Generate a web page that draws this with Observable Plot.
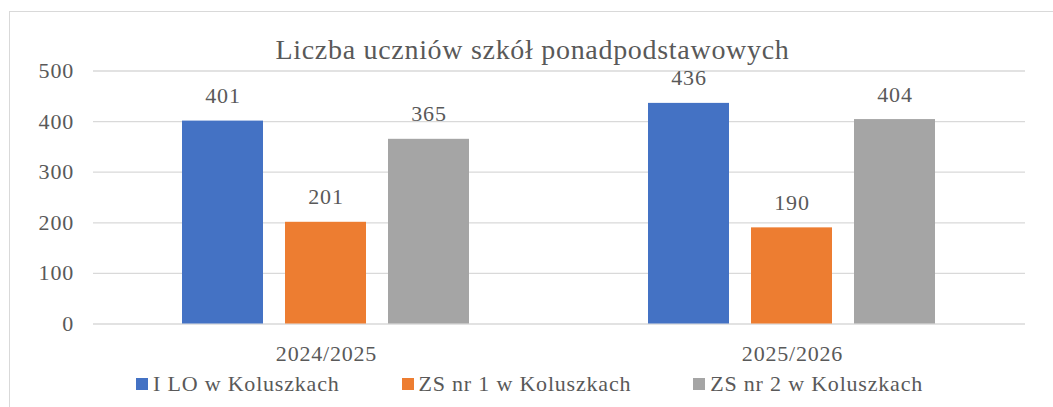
<!DOCTYPE html>
<html>
<head>
<meta charset="utf-8">
<script src="https://cdn.jsdelivr.net/npm/d3@7"></script>
<script src="https://cdn.jsdelivr.net/npm/@observablehq/plot@0.6"></script>
<style>
  html, body { margin: 0; padding: 0; background: #fff; width: 1053px; height: 407px; overflow: hidden; }
  body { position: relative; font-family: "Liberation Serif", "Times New Roman", serif; color: #595959; }
  #frame { position: absolute; left: 9px; top: 11px; width: 1100px; height: 450px; border: 1.5px solid #D9D9D9; box-sizing: border-box; }
  #wrap { position: relative; }
  #title { height: 17px; padding-top: 33px; line-height: 33.6px; font-size: 28px; letter-spacing: 0.7px; text-align: center; padding-left: 12px; white-space: nowrap; }
  #chart svg { display: block; }
  #legend { display: flex; justify-content: center; gap: 62px; font-size: 22px; letter-spacing: 0.8px; line-height: 26px; padding-left: 6px; }
  .item { display: flex; align-items: center; }
  .sw { width: 12px; height: 12px; margin-right: 5px; }
</style>
</head>
<body>
<div id="frame"></div>
<div id="wrap">
  <div id="title">Liczba uczniów szkół ponadpodstawowych</div>
  <div id="chart"></div>
  <div id="legend"></div>
</div>
<script>
const years = ["2024/2025", "2025/2026"];
const schools = ["I LO w Koluszkach", "ZS nr 1 w Koluszkach", "ZS nr 2 w Koluszkach"];
const values2024_2025 = [401, 201, 365];
const values2025_2026 = [436, 190, 404];
const colors = ["#4472C4", "#ED7D31", "#A5A5A5"];
const yTicks = [0, 100, 200, 300, 400, 500];

const seriesByYear = [values2024_2025, values2025_2026];
const data = [];
years.forEach((yr, i) => {
  schools.forEach((s, j) => {
    data.push({ year: yr, school: s, value: seriesByYear[i][j] });
  });
});

const FONT = '"Liberation Serif", "Times New Roman", serif';

const chart = Plot.plot({
  width: 1053,
  height: 321,
  marginTop: 20.5,
  marginBottom: 47.5,
  marginLeft: 92,
  marginRight: 28,
  style: { fontFamily: FONT, fontSize: "22px", letterSpacing: "0.8px", color: "#595959", background: "transparent", overflow: "visible" },
  fx: { domain: years, padding: 0, label: null },
  x: { domain: schools, paddingInner: 0.21, paddingOuter: 0.86, axis: null },
  y: { domain: [0, 500], label: null },
  color: { domain: schools, range: colors },
  marks: [
    Plot.ruleY(yTicks, { stroke: "#D9D9D9", strokeWidth: 1.3 }),
    Plot.barY(data, { fx: "year", x: "school", y: "value", fill: "school" }),
    Plot.text(data, { fx: "year", x: "school", y: "value", text: d => String(d.value), lineAnchor: "bottom", dy: -18, fill: "#595959", fontSize: 22 }),
    Plot.axisY({ ticks: yTicks, tickSize: 0, tickPadding: 19.5, label: null, fontSize: 22 }),
    Plot.axisFx({ anchor: "bottom", tickSize: 0, tickPadding: 21, label: null, fontSize: 22 })
  ]
});
document.getElementById("chart").appendChild(chart);

const legend = document.getElementById("legend");
schools.forEach((s, i) => {
  const it = document.createElement("div");
  it.className = "item";
  const sw = document.createElement("span");
  sw.className = "sw";
  sw.style.background = colors[i];
  const tx = document.createElement("span");
  tx.textContent = s;
  it.appendChild(sw);
  it.appendChild(tx);
  legend.appendChild(it);
});
</script>
</body>
</html>
